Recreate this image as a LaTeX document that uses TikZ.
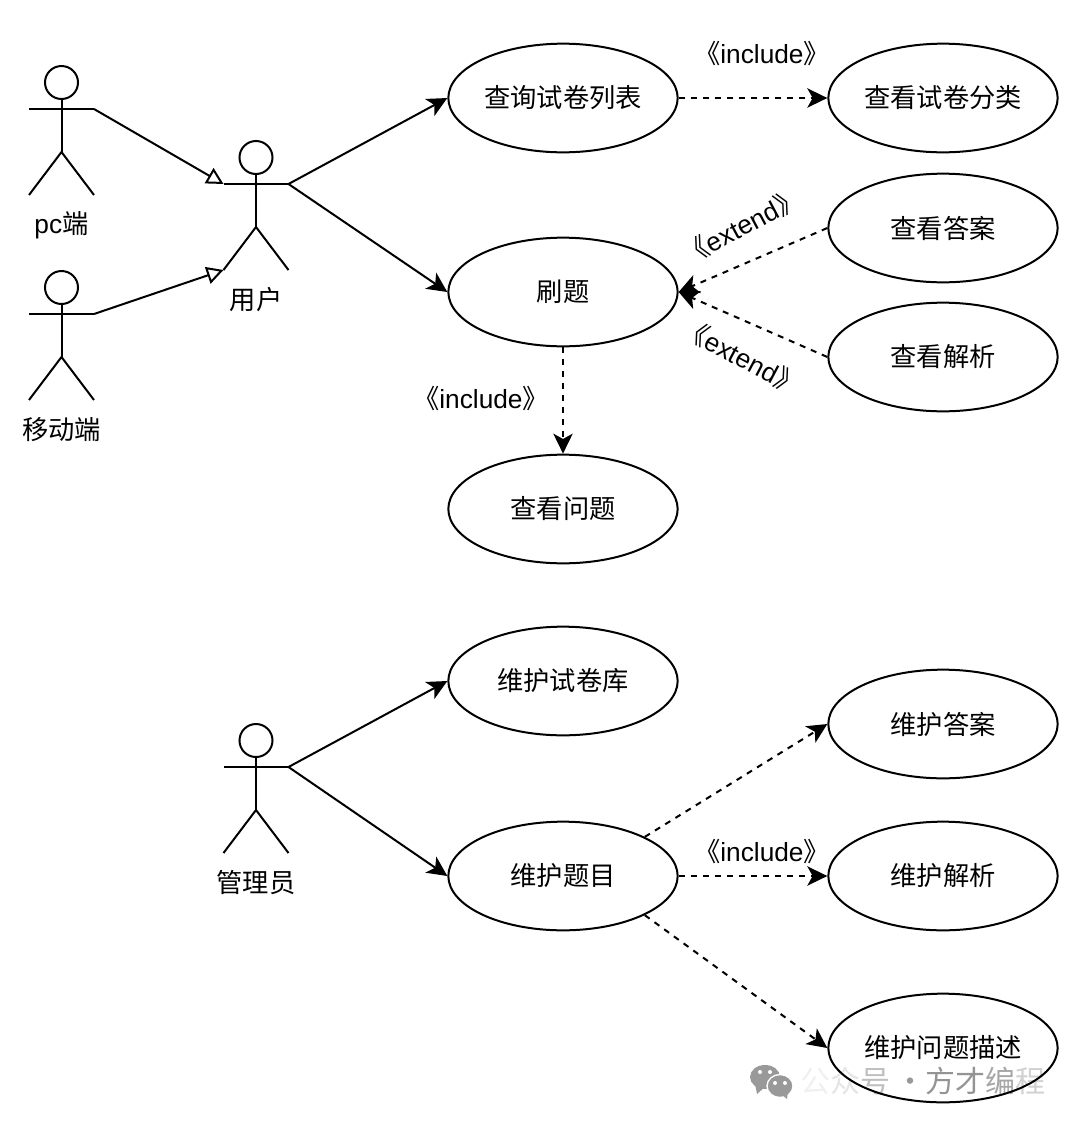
\documentclass[tikz,border=0pt]{standalone}
\usepackage{fontspec}
\setmainfont{Liberation Sans}
\newfontfamily\cjk{Noto Sans CJK SC}
\usepackage{tikz}
\usetikzlibrary{shapes.geometric,arrows.meta,positioning}

\tikzset{
    usecase/.style={draw, ellipse, line width=1.5pt, minimum width=172pt, minimum height=81.5pt, inner sep=0pt, font=\cjk\fontsize{19.7}{24}\selectfont},
    assoc/.style={line width=1.5pt, -{Stealth[length=15pt, width=14.5pt, inset=4pt]}},
    depend/.style={assoc, dash pattern=on 4.5pt off 4.5pt},
    inherit/.style={line width=1.5pt, -{Triangle[open, length=12.5pt, width=13pt, fill=white]}},
    tag/.style={font=\fontsize{19.7}{24}\selectfont},
    actorname/.style={font=\fontsize{19.7}{24}\selectfont},
    actor/.pic={
        \node[draw, circle, line width=1.5pt, minimum size=24.75pt, inner sep=0pt] (-head) at (0,17.5) {};
        \coordinate (-arml) at (-32.5,44);
        \coordinate (-armr) at (32.5,44);
        \coordinate (-hip) at (0,87);
        \coordinate (-legl) at (-32.5,130);
        \coordinate (-legr) at (32.5,130);
        \draw[line width=1.5pt] (-head) -- (-hip);
        \draw[line width=1.5pt] (-arml) -- (-armr);
        \draw[line width=1.5pt] (-legl) -- (-hip) -- (-legr);
        \node[actorname] (-name) at (0,160) {#1};
    }
}

\begin{document}
\begin{tikzpicture}[x=0.75pt, y=-0.75pt, node distance=111.5pt]
    \useasboundingbox (0,0) rectangle (1080,1125);

    % Watermark, sits under the ellipse line
    \fill[black!40] (765,1077) ellipse [x radius=15, y radius=12];
    \fill[black!40] (755,1084) -- (757,1094) -- (765,1087) -- cycle;
    \fill[black!40, draw=white, line width=1pt] (780,1086) ellipse [x radius=13, y radius=11.5];
    \fill[black!40] (781,1094) -- (787,1099) -- (788,1091) -- cycle;
    \foreach \ex/\ey in {760/1072, 770/1072, 775/1083, 785/1083}
        \fill[white] (\ex,\ey) circle [radius=2];
    \node[anchor=west, inner sep=0pt, font=\cjk\fontsize{22.5}{24}\selectfont] (mark) at (800,1081) {\textcolor{black!6}{公}\textcolor{black!10}{众}\textcolor{black!25}{号}\,\textcolor{black!40}{·}\textcolor{black!42}{方}\textcolor{black!42}{才}\textcolor{black!35}{编}\textcolor{black!18}{程}};

    % Top part: user side
    \node[usecase] (paperlist) at (563,98) {查询试卷列表};
    \node[usecase, right=of paperlist] (papertype) {查看试卷分类};
    \node[usecase] (brush) at (563,292) {刷题};
    \node[usecase] (answer) at (943,228) {查看答案};
    \node[usecase] (analysis) at (943,357) {查看解析};
    \node[usecase] (question) at (563,509) {查看问题};

    \pic (pc) at (61.5,65) {actor={pc{\cjk 端}}};
    \pic (mobile) at (61.5,270) {actor={\cjk 移动端}};
    \pic (user) at (256,140) {actor={\cjk 用户}};

    \draw[inherit] (pc-armr) -- (user-arml);
    \draw[inherit] (mobile-armr) -- (user-legl);
    \draw[assoc] (user-armr) -- (paperlist.west);
    \draw[assoc] (user-armr) -- (brush.west);
    \draw[depend] (paperlist.east) -- (papertype.west);
    \draw[depend] (answer.west) -- (brush.east);
    \draw[depend] (analysis.west) -- (brush.east);
    \draw[depend] (brush.south) -- (question.north);

    \node[tag] (inc1) at (762,54) {{\cjk 《}include{\cjk 》}};
    \node[tag, rotate=28] (ext1) at (742,226) {{\cjk 《}extend{\cjk 》}};
    \node[tag, rotate=-28] (ext2) at (742,357) {{\cjk 《}extend{\cjk 》}};
    \node[tag] (inc2) at (481,399) {{\cjk 《}include{\cjk 》}};

    % Bottom part: admin side
    \node[usecase] (paperbase) at (563,681) {维护试卷库};
    \node[usecase] (subject) at (563,876) {维护题目};
    \node[usecase] (keepanswer) at (943,724) {维护答案};
    \node[usecase, right=of subject] (keepanalysis) {维护解析};
    \node[usecase] (keepdesc) at (943,1048) {维护问题描述};

    \pic (admin) at (256,723) {actor={\cjk 管理员}};

    \draw[assoc] (admin-armr) -- (paperbase.west);
    \draw[assoc] (admin-armr) -- (subject.west);
    \draw[depend] (subject.north east) -- (keepanswer.west);
    \draw[depend] (subject.east) -- (keepanalysis.west);
    \draw[depend] (subject.south east) -- (keepdesc.west);

    \node[tag] (inc3) at (762,852) {{\cjk 《}include{\cjk 》}};
\end{tikzpicture}
\end{document}
